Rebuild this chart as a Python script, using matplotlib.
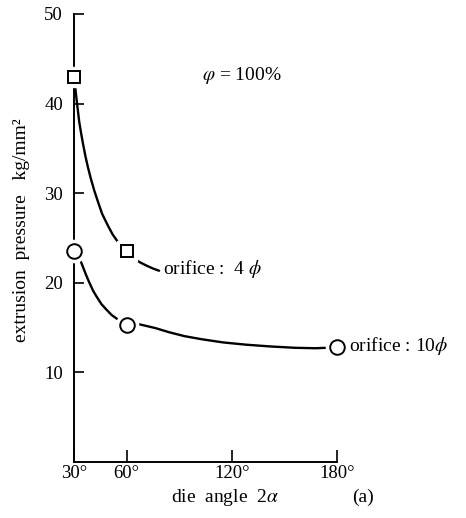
import matplotlib
matplotlib.use("Agg")
import matplotlib.pyplot as plt

# measured points
angle_4 = [30, 60]
press_4 = [43.0, 23.5]
angle_10 = [30, 60, 180]
press_10 = [23.5, 15.3, 12.8]

# hand-drawn curves
curve4_x = [30, 31.1, 32.0, 32.9, 34.0, 35.2, 36.5, 37.9, 39.6, 41.5, 43.7, 46.0, 49.0, 52.0, 54.5, 56.8, 58.5,
            60, 62.0, 64.5, 67.5, 71.0, 75.0, 78.5]
curve4_y = [43.0, 41.0, 39.5, 38.0, 36.7, 35.4, 34.1, 32.9, 31.6, 30.3, 29.0, 27.7, 26.5, 25.4, 24.7, 24.1, 23.8,
            23.5, 23.1, 22.7, 22.3, 21.95, 21.6, 21.35]
curve10_x = [30, 31.5, 33.8, 35.5, 37.1, 39.0, 40.9, 43.2, 45.7, 48.5, 51.5, 54.0, 56.2, 58.5,
             60, 62.5, 65.0, 67.7, 71.0, 76.4, 84.0, 93.0, 103.0, 115.0, 128.0, 142.0, 156.0, 168.0, 180]
curve10_y = [23.5, 23.1, 22.4, 21.55, 20.75, 19.9, 19.1, 18.35, 17.6, 17.0, 16.4, 16.05, 15.75, 15.5,
             15.3, 15.3, 15.35, 15.35, 15.2, 14.95, 14.5, 14.05, 13.7, 13.35, 13.1, 12.9, 12.75, 12.7, 12.8]

xticks = [30, 60, 120, 180]
xtick_labels = ["30°", "60°", "120°", "180°"]
yticks = [10, 20, 30, 40, 50]

plt.rcParams['font.family'] = ['Liberation Serif', 'DejaVu Serif']
plt.rcParams['mathtext.fontset'] = 'stix'

fig = plt.figure(figsize=(4.66, 5.18), dpi=100)
ax = fig.add_axes([0.159, 0.108, 0.564, 0.865])

for cx, cy in [(curve4_x, curve4_y), (curve10_x, curve10_y)]:
    ax.plot(cx, cy, color='black', lw=1.7, clip_on=False, zorder=2,
            solid_joinstyle='round', solid_capstyle='round')

# white halo under markers gives the little gaps in the line
ax.plot(angle_4, press_4, 's', ms=15, mfc='white', mec='white', clip_on=False, zorder=3)
ax.plot(angle_4, press_4, 's', ms=9, mfc='white', mec='black', mew=1.4, clip_on=False, zorder=4)
ax.plot(angle_10, press_10, 'o', ms=16, mfc='white', mec='white', clip_on=False, zorder=3)
ax.plot(angle_10, press_10, 'o', ms=10.5, mfc='white', mec='black', mew=1.4, clip_on=False, zorder=4)

ax.set_xlim(30, 180)
ax.set_ylim(0, 50)
ax.spines['top'].set_visible(False)
ax.spines['right'].set_visible(False)
ax.spines['left'].set_linewidth(1.4)
ax.spines['bottom'].set_linewidth(1.4)

ax.set_xticks(xticks)
ax.set_xticklabels(xtick_labels)
ax.set_yticks(yticks)
ax.tick_params(axis='both', direction='in', width=1.2, labelsize=13.5)
ax.tick_params(axis='y', length=7, pad=8)
ax.tick_params(axis='x', length=9, pad=2)

ax.text(81, 21.5, "orifice :  4 $\\phi$", fontsize=14, va='center', ha='left')
ax.text(187, 12.9, "orifice : 10$\\phi$", fontsize=14, va='center', ha='left', clip_on=False)
ax.text(103, 43.1, "$\\varphi$ = 100%", fontsize=14, va='center', ha='left')

fig.text(0.483, 0.02, "die  angle  2$\\alpha$", fontsize=14, ha='center', va='bottom')
fig.text(0.778, 0.024, "(a)", fontsize=14, ha='center', va='bottom')
fig.text(0.047, 0.555, "extrusion  pressure   kg/mm²", fontsize=14, rotation=90,
         ha='center', va='center')

fig.savefig("out.png", dpi=100)
